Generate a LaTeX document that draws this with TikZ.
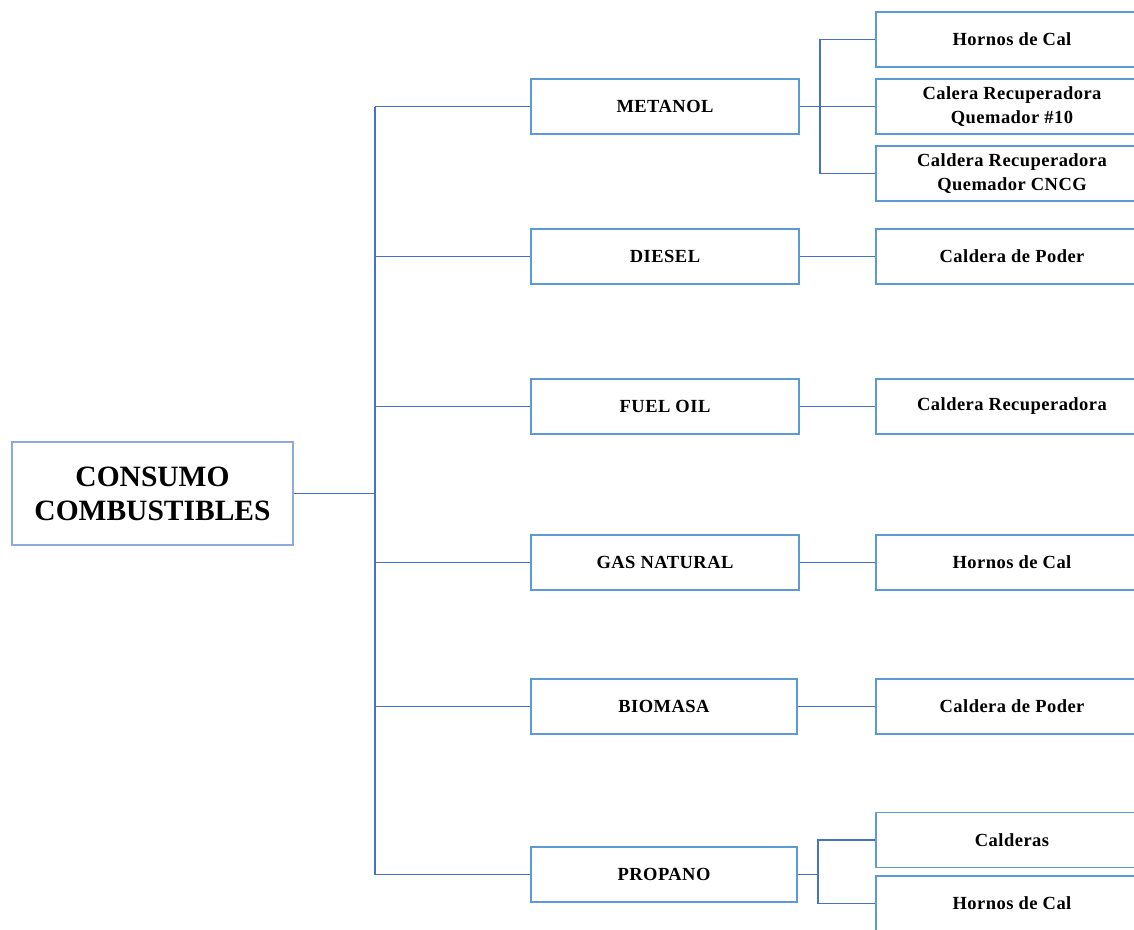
\documentclass[tikz,border=0pt]{standalone}
\usepackage{fontspec}
\setmainfont{Liberation Serif}
\newfontfamily\labelfont[LetterSpace=2.5]{Liberation Serif}
\definecolor{boxblue}{HTML}{5B9BD5}
\definecolor{rootblue}{HTML}{8EA9DB}
\definecolor{linkblue}{HTML}{4472C4}
\begin{document}
\begin{tikzpicture}[x=1pt,y=-1pt,
  box/.style={draw=boxblue, line width=1.6pt, fill=white, inner sep=0pt,
    align=center, font=\labelfont\bfseries\fontsize{18.5}{24}\selectfont},
  fuel/.style={box, minimum width=268pt, minimum height=55pt},
  use/.style={box, minimum width=272pt, minimum height=55pt},
  root/.style={box, draw=rootblue, minimum width=281pt, minimum height=103pt,
    font=\rmfamily\bfseries\fontsize{29.5}{34}\selectfont},
  link/.style={draw=linkblue, line width=1.3pt}]
\useasboundingbox (0,0) rectangle (1134,929);
\clip (0,0) rectangle (1134,929);

% root
\node[root] (root) at (152.5,493.5) {CONSUMO\\COMBUSTIBLES};

% fuels
\node[fuel] (metanol) at (665,106.5) {METANOL};
\node[fuel] (diesel)  at (665,256.5) {DIESEL};
\node[fuel] (fuel)    at (665,406.5) {FUEL OIL};
\node[fuel] (gas)     at (665,562.5) {GAS NATURAL};
\node[fuel, minimum width=266pt] (bio)  at (664,706.5) {BIOMASA};
\node[fuel, minimum width=266pt] (prop) at (664,874.5) {PROPANO};

% consumers
\node[use] (m1) at (1012,39.5)  {Hornos de Cal};
\node[use] (m2) at (1012,106.5) {Calera Recuperadora\\Quemador \#10};
\node[use] (m3) at (1012,173.5) {Caldera Recuperadora\\Quemador CNCG};
\node[use] (d1) at (1012,256.5) {Caldera de Poder};
\node[use] (f1) at (1012,406.5) {Caldera Recuperadora};
\node[use] (g1) at (1012,562.5) {Hornos de Cal};
\node[use] (b1) at (1012,706.5) {Caldera de Poder};
\node[use] (p1) at (1012,840)   {Calderas};
\node[use] (p2) at (1012,903.5) {Hornos de Cal};

% main trunk
\coordinate (tr) at (375,493.5);
\draw[link] (root.east) -- (tr);
\draw[link] (metanol.west -| tr) -- (prop.west -| tr);
\foreach \n in {metanol,diesel,fuel,gas,bio,prop}
  \draw[link] (\n.west -| tr) -- (\n.west);

% metanol branch
\coordinate (mb) at (820,106.5);
\draw[link] (metanol.east) -- (mb) -- (m2.west);
\draw[link] (m1.west) -| (mb) |- (m3.west);

% single links
\draw[link] (diesel.east) -- (d1.west);
\draw[link] (fuel.east) -- (f1.west);
\draw[link] (gas.east) -- (g1.west);
\draw[link] (bio.east) -- (b1.west);

% propano branch
\coordinate (pb) at (818,874.5);
\draw[link] (prop.east) -- (pb);
\draw[link] (p1.west) -| (pb) |- (p2.west);
\end{tikzpicture}
\end{document}
